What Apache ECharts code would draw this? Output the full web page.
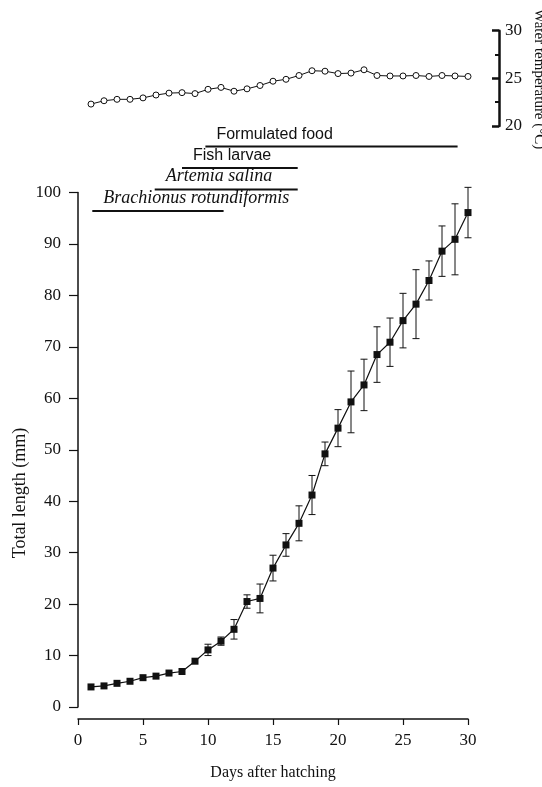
<!DOCTYPE html>
<html>
<head>
<meta charset="utf-8">
<script src="https://cdn.jsdelivr.net/npm/echarts@6/dist/echarts.min.js"></script>
<style>
html, body { margin: 0; padding: 0; background: #fff; }
#canvas { width: 542px; height: 787px; }
</style>
</head>
<body>
<div id="canvas"></div>
<script>
var days = [];
for (var d = 1; d <= 30; d++) days.push(d);

// total length (mm)
var lengthMean = [3.9, 4.1, 4.6, 5.0, 5.7, 6.0, 6.6, 6.9, 8.9, 11.1,
                  12.8, 15.1, 20.5, 21.1, 27.0, 31.5, 35.7, 41.2, 49.2, 54.2,
                  59.3, 62.6, 68.5, 70.9, 75.1, 78.3, 82.9, 88.6, 90.9, 96.1];
var lengthSd = [0, 0, 0, 0, 0, 0, 0, 0, 0, 1.1,
                0.8, 1.9, 1.3, 2.8, 2.5, 2.2, 3.4, 3.8, 2.3, 3.6,
                6.0, 5.0, 5.4, 4.7, 5.3, 6.7, 3.8, 4.9, 6.9, 4.9];

// water temperature (C)
var waterTemp = [22.3, 22.65, 22.8, 22.8, 22.95, 23.25, 23.45, 23.5, 23.4, 23.85,
                 24.05, 23.65, 23.9, 24.25, 24.7, 24.9, 25.3, 25.8, 25.75, 25.5,
                 25.55, 25.9, 25.3, 25.25, 25.25, 25.3, 25.2, 25.3, 25.25, 25.2];

// feeding periods
var feedNames = ['Brachionus rotundiformis', 'Artemia salina', 'Fish larvae', 'Formulated food'];
var feedStart = [1.1, 5.9, 8.0, 9.8];
var feedEnd = [11.2, 16.9, 16.9, 29.2];
var feedItalic = [true, true, false, false];

var xTicks = ['0', '5', '10', '15', '20', '25', '30'];

var serif = "'Liberation Serif', 'Times New Roman', serif";
var sans = "'Liberation Sans', Arial, sans-serif";
var ink = '#111';

var myChart = echarts.init(document.getElementById('canvas'));

var lineData = [], errData = [], tempData = [], feedData = [];
for (var i = 0; i < days.length; i++) {
    lineData.push([days[i], lengthMean[i]]);
    errData.push([days[i], lengthMean[i] - lengthSd[i], lengthMean[i] + lengthSd[i]]);
    tempData.push([days[i], waterTemp[i]]);
}
for (var i = 0; i < feedNames.length; i++) {
    feedData.push([feedStart[i], feedEnd[i], i + 1]);
}

var renderErr = function(params, api) {
    var x = api.value(0), lo = api.value(1), hi = api.value(2);
    if (hi - lo <= 0) return null;
    var a = api.coord([x, hi]), b = api.coord([x, lo]);
    var w = 3.5;
    var st = {stroke: ink, lineWidth: 1};
    return {
        type: 'group',
        children: [
            {type: 'line', shape: {x1: a[0], y1: a[1], x2: b[0], y2: b[1]}, style: st},
            {type: 'line', shape: {x1: a[0] - w, y1: a[1], x2: a[0] + w, y2: a[1]}, style: st},
            {type: 'line', shape: {x1: b[0] - w, y1: b[1], x2: b[0] + w, y2: b[1]}, style: st}
        ]
    };
};

var renderFeed = function(params, api) {
    var i = params.dataIndex;
    var a = api.coord([api.value(0), api.value(2)]);
    var b = api.coord([api.value(1), api.value(2)]);
    var italic = feedItalic[i];
    return {
        type: 'group',
        children: [
            {type: 'line', shape: {x1: a[0], y1: a[1], x2: b[0], y2: b[1]},
             style: {stroke: ink, lineWidth: 2.2}},
            {type: 'text', x: a[0] + 11, y: a[1] - 4,
             style: {
                 text: feedNames[i],
                 fill: ink,
                 font: (italic ? 'italic 18px ' + serif : '16px ' + sans),
                 textAlign: 'left',
                 textVerticalAlign: 'bottom'
             }}
        ]
    };
};

var hiddenX = function(idx) {
    return {gridIndex: idx, type: 'value', min: 0, max: 30, show: false};
};

var option = {
    animation: false,
    backgroundColor: '#fff',
    grid: [
        {left: 78, width: 390, top: 192.5, height: 514.5},
        {left: 78, width: 390, top: 30.7, height: 95.3},
        {left: 78, width: 390, top: 146.5, height: 86}
    ],
    xAxis: [
        {
            gridIndex: 0, type: 'value', min: 0, max: 30, interval: 5,
            offset: 12,
            name: 'Days after hatching',
            nameLocation: 'middle',
            nameGap: 46,
            nameTextStyle: {fontFamily: serif, fontSize: 16, color: ink},
            axisLine: {show: true, onZero: false, lineStyle: {color: ink, width: 1.5}},
            axisTick: {show: true, length: 6, lineStyle: {color: ink, width: 1.2}},
            splitLine: {show: false},
            axisLabel: {
                margin: 13, fontFamily: serif, fontSize: 17, color: ink,
                formatter: function(v) { return xTicks[v / 5]; }
            }
        },
        hiddenX(1),
        hiddenX(2)
    ],
    yAxis: [
        {
            gridIndex: 0, type: 'value', min: 0, max: 100, interval: 10,
            axisLine: {show: true, onZero: false, lineStyle: {color: ink, width: 1.5}},
            axisTick: {show: true, length: 9, lineStyle: {color: ink, width: 1.2}},
            splitLine: {show: false},
            axisLabel: {margin: 17, fontFamily: serif, fontSize: 17, color: ink}
        },
        {
            gridIndex: 1, type: 'value', min: 20, max: 30, interval: 5,
            position: 'right', offset: 31,
            axisLine: {show: true, onZero: false, lineStyle: {color: ink, width: 2.5}},
            axisTick: {show: true, inside: true, length: 7, lineStyle: {color: ink, width: 2.5}},
            minorTick: {show: true, splitNumber: 2, length: 4, lineStyle: {color: ink, width: 2}},
            splitLine: {show: false},
            axisLabel: {margin: 6, fontFamily: serif, fontSize: 17, color: ink}
        },
        {gridIndex: 2, type: 'value', min: 0, max: 4, show: false}
    ],
    series: [
        {
            name: 'Total length',
            type: 'line',
            xAxisIndex: 0, yAxisIndex: 0,
            data: lineData,
            symbol: 'rect',
            symbolSize: 7,
            lineStyle: {color: ink, width: 1.2},
            itemStyle: {color: ink},
            z: 3
        },
        {
            name: 'SD',
            type: 'custom',
            xAxisIndex: 0, yAxisIndex: 0,
            data: errData,
            renderItem: renderErr,
            clip: false,
            z: 2
        },
        {
            name: 'Water temperature',
            type: 'line',
            xAxisIndex: 1, yAxisIndex: 1,
            data: tempData,
            symbol: 'circle',
            symbolSize: 6,
            lineStyle: {color: ink, width: 1},
            itemStyle: {color: '#fff', borderColor: ink, borderWidth: 1}
        },
        {
            name: 'Food',
            type: 'custom',
            xAxisIndex: 2, yAxisIndex: 2,
            data: feedData,
            renderItem: renderFeed,
            clip: false
        }
    ],
    graphic: [
        {
            type: 'text', x: 20, y: 493, rotation: Math.PI / 2,
            style: {text: 'Total length (mm)', fill: ink, font: '18px ' + serif,
                    textAlign: 'center', textVerticalAlign: 'middle'}
        },
        {
            type: 'text', x: 531, y: 79, rotation: -Math.PI / 2,
            style: {text: 'Water temperature (\u00b0C)', fill: ink, font: '15px ' + serif,
                    textAlign: 'center', textVerticalAlign: 'bottom'}
        }
    ]
};
myChart.setOption(option);
</script>
</body>
</html>
